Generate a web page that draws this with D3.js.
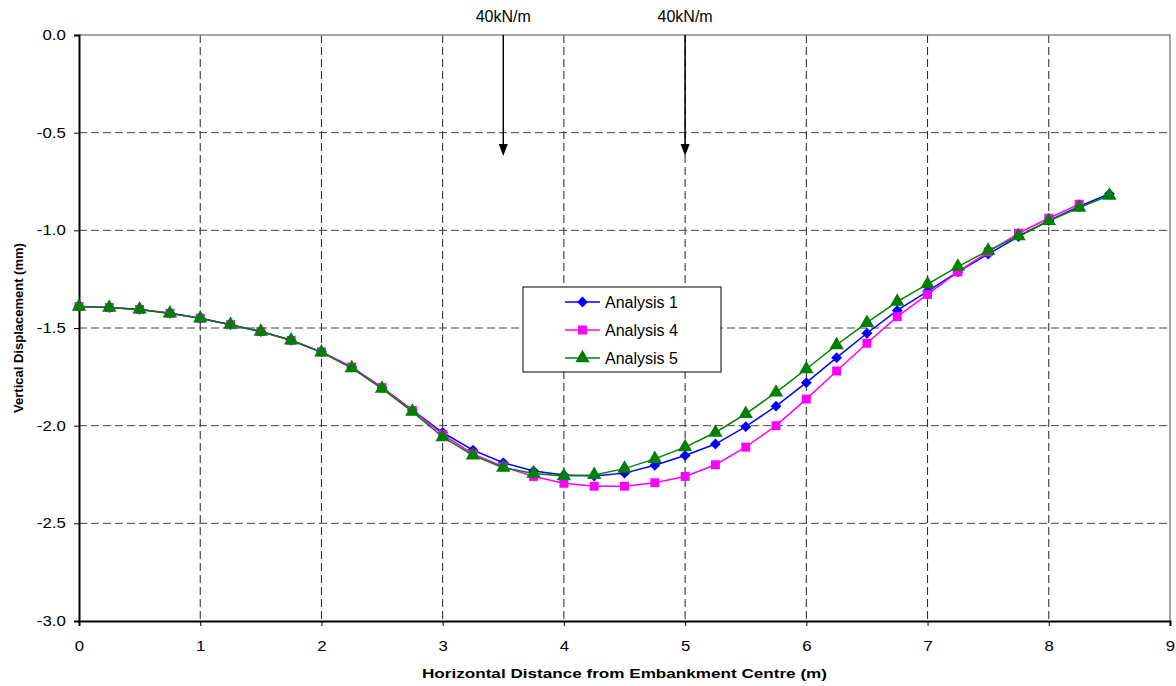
<!DOCTYPE html>
<html lang="en">
    <head>
        <meta charset="UTF-8" />
        <title>Vertical Displacement</title>
        <style>
            body { margin: 0; background: #fff; }
            text { font-family: "Liberation Sans", Arial, sans-serif; fill: #000; }
            .tick-label { font-size: 14px; }
            .axis-title { font-size: 13px; font-weight: bold; }
            .legend-text { font-size: 16px; }
            .load-text { font-size: 16px; }
        </style>
    </head>
    <body>
        <script src="https://d3js.org/d3.v7.min.js"></script>
        <div id="chart"></div>
        <script>
            // horizontal distance of each node (m)
            var distance = [0, 0.25, 0.5, 0.75, 1, 1.25, 1.5, 1.75, 2, 2.25, 2.5, 2.75, 3, 3.25, 3.5, 3.75,
                            4, 4.25, 4.5, 4.75, 5, 5.25, 5.5, 5.75, 6, 6.25, 6.5, 6.75, 7, 7.25, 7.5, 7.75,
                            8, 8.25, 8.5];

            // vertical displacement (mm)
            var analysis1 = [-1.39, -1.395, -1.405, -1.425, -1.45, -1.483, -1.518, -1.563, -1.622, -1.70,
                             -1.805, -1.92, -2.035, -2.125, -2.19, -2.232, -2.252, -2.258, -2.243, -2.203,
                             -2.153, -2.094, -2.005, -1.90, -1.78, -1.652, -1.527, -1.41, -1.312, -1.213,
                             -1.122, -1.032, -0.95, -0.878, -0.813];
            var analysis4 = [-1.39, -1.395, -1.405, -1.425, -1.45, -1.483, -1.518, -1.563, -1.622, -1.70,
                             -1.805, -1.922, -2.045, -2.145, -2.21, -2.26, -2.295, -2.31, -2.31, -2.292,
                             -2.26, -2.20, -2.11, -2.0, -1.864, -1.72, -1.578, -1.442, -1.328, -1.213,
                             -1.11, -1.015, -0.938, -0.866];
            var analysis5 = [-1.39, -1.395, -1.405, -1.425, -1.45, -1.483, -1.518, -1.563, -1.625, -1.705,
                             -1.81, -1.928, -2.058, -2.152, -2.215, -2.245, -2.258, -2.252, -2.22, -2.17,
                             -2.11, -2.035, -1.94, -1.83, -1.71, -1.587, -1.473, -1.365, -1.275, -1.186,
                             -1.104, -1.029, -0.952, -0.884, -0.822];

            var seriesNames = ["Analysis 1", "Analysis 4", "Analysis 5"];

            // tick values
            var xTicks = [0, 1, 2, 3, 4, 5, 6, 7, 8, 9];
            var yTicks = [0, -0.5, -1.0, -1.5, -2.0, -2.5, -3.0];

            // line loads and where the arrows stop
            var loadX = [3.5, 5];
            var loadLabels = ["40kN/m", "40kN/m"];
            var loadTip = -0.62;

            var W = 1176, H = 686;
            var margin = {top: 35, right: 6, bottom: 65, left: 79},
                width = W - margin.left - margin.right,
                height = H - margin.top - margin.bottom;

            var svg = d3.select("#chart")
              .append("svg")
                .attr("width", W)
                .attr("height", H)
              .append("g")
                .attr("transform", "translate(" + margin.left + "," + margin.top + ")");

            var x = d3.scaleLinear().domain([0, 9]).range([0, width]);
            var y = d3.scaleLinear().domain([-3, 0]).range([height, 0]);

            // dashed grid
            svg.append("g")
              .selectAll("line")
              .data(xTicks.filter(function(d) { return d > 0 && d < 9; }))
              .enter().append("line")
                .attr("x1", function(d) { return x(d); })
                .attr("x2", function(d) { return x(d); })
                .attr("y1", 0)
                .attr("y2", height)
                .attr("stroke", "#222")
                .attr("stroke-dasharray", "8,4");

            svg.append("g")
              .selectAll("line")
              .data(yTicks.filter(function(d) { return d < 0 && d > -3; }))
              .enter().append("line")
                .attr("x1", 0)
                .attr("x2", width)
                .attr("y1", function(d) { return y(d); })
                .attr("y2", function(d) { return y(d); })
                .attr("stroke", "#444")
                .attr("stroke-dasharray", "8,4");

            // top and right frame
            svg.append("path")
              .attr("d", "M0,0H" + width + "V" + height)
              .attr("fill", "none")
              .attr("stroke", "#888")
              .attr("stroke-width", 1.5);

            // axes (plain hyphen for the minus sign, like the original)
            var xAxis = svg.append("g")
              .attr("transform", "translate(0," + height + ")")
              .call(d3.axisBottom(x).tickValues(xTicks).tickSize(5).tickFormat(function(d) { return String(d); }));
            xAxis.select(".domain").attr("stroke-width", 2);
            xAxis.selectAll("text")
              .attr("class", "tick-label")
              .attr("font-family", null)
              .attr("font-size", null)
              .attr("dy", "1.55em")
              .attr("transform", "scale(1.2,1)");

            var yAxis = svg.append("g")
              .call(d3.axisLeft(y).tickValues(yTicks).tickSize(5).tickFormat(function(d) { return d.toFixed(1); }));
            yAxis.select(".domain").attr("stroke-width", 2);
            yAxis.selectAll("text")
              .attr("class", "tick-label")
              .attr("font-family", null)
              .attr("font-size", null)
              .attr("x", -11)
              .attr("transform", "scale(1.2,1)");

            // axis titles
            svg.append("text")
              .attr("class", "axis-title")
              .attr("x", width / 2)
              .attr("y", height + 57)
              .attr("text-anchor", "middle")
              .attr("textLength", 405)
              .attr("lengthAdjust", "spacingAndGlyphs")
              .text("Horizontal Distance from Embankment Centre (m)");

            svg.append("text")
              .attr("class", "axis-title")
              .attr("transform", "translate(-56," + (height / 2) + ")rotate(-90)")
              .attr("text-anchor", "middle")
              .text("Vertical Displacement (mm)");

            // load arrows
            svg.selectAll(".load")
              .data(loadX)
              .enter().append("line")
                .attr("class", "load")
                .attr("x1", function(d) { return x(d); })
                .attr("x2", function(d) { return x(d); })
                .attr("y1", 0)
                .attr("y2", y(loadTip) - 8)
                .attr("stroke", "#000")
                .attr("stroke-width", 1.5);

            svg.selectAll(".load-head")
              .data(loadX)
              .enter().append("path")
                .attr("class", "load-head")
                .attr("d", function(d) {
                    var tx = x(d), ty = y(loadTip);
                    return "M" + tx + "," + ty + "L" + (tx - 4.5) + "," + (ty - 12) + "L" + (tx + 4.5) + "," + (ty - 12) + "Z";
                })
                .attr("fill", "#000");

            svg.selectAll(".load-text")
              .data(loadX)
              .enter().append("text")
                .attr("class", "load-text")
                .attr("x", function(d) { return x(d); })
                .attr("y", -13)
                .attr("text-anchor", "middle")
                .text(function(d, i) { return loadLabels[i]; });

            // series
            var diamond = d3.symbolDiamond2 || d3.symbolDiamond;
            var series = [
                {name: seriesNames[0], values: analysis1, color: "#0000ff", shape: diamond, size: 75},
                {name: seriesNames[1], values: analysis4, color: "#ff00ff", shape: d3.symbolSquare, size: 80},
                {name: seriesNames[2], values: analysis5, color: "#008000", shape: d3.symbolTriangle, size: 90}
            ];

            var line = d3.line()
              .x(function(d) { return x(d[0]); })
              .y(function(d) { return y(d[1]); });

            series.forEach(function(s) {
                var pts = s.values.map(function(v, i) { return [distance[i], v]; });
                var g = svg.append("g");
                g.append("path")
                  .datum(pts)
                  .attr("d", line)
                  .attr("fill", "none")
                  .attr("stroke", s.color)
                  .attr("stroke-width", 1.5);
                g.selectAll("path.pt")
                  .data(pts)
                  .enter().append("path")
                    .attr("class", "pt")
                    .attr("transform", function(d) { return "translate(" + x(d[0]) + "," + y(d[1]) + ")"; })
                    .attr("d", d3.symbol().type(s.shape).size(s.size))
                    .attr("fill", s.color);
            });

            // legend
            var legend = svg.append("g")
              .attr("transform", "translate(" + (523 - margin.left) + "," + (287 - margin.top) + ")");
            legend.append("rect")
              .attr("width", 198)
              .attr("height", 85)
              .attr("fill", "#fff")
              .attr("stroke", "#000");
            series.forEach(function(s, i) {
                var cy = 15 + i * 28;
                legend.append("line")
                  .attr("x1", 42).attr("x2", 77)
                  .attr("y1", cy).attr("y2", cy)
                  .attr("stroke", s.color)
                  .attr("stroke-width", 1.5);
                legend.append("path")
                  .attr("transform", "translate(59.5," + cy + ")")
                  .attr("d", d3.symbol().type(s.shape).size(s.size))
                  .attr("fill", s.color);
                legend.append("text")
                  .attr("class", "legend-text")
                  .attr("x", 82)
                  .attr("y", cy)
                  .attr("dy", "0.35em")
                  .text(s.name);
            });
        </script>
    </body>
</html>
